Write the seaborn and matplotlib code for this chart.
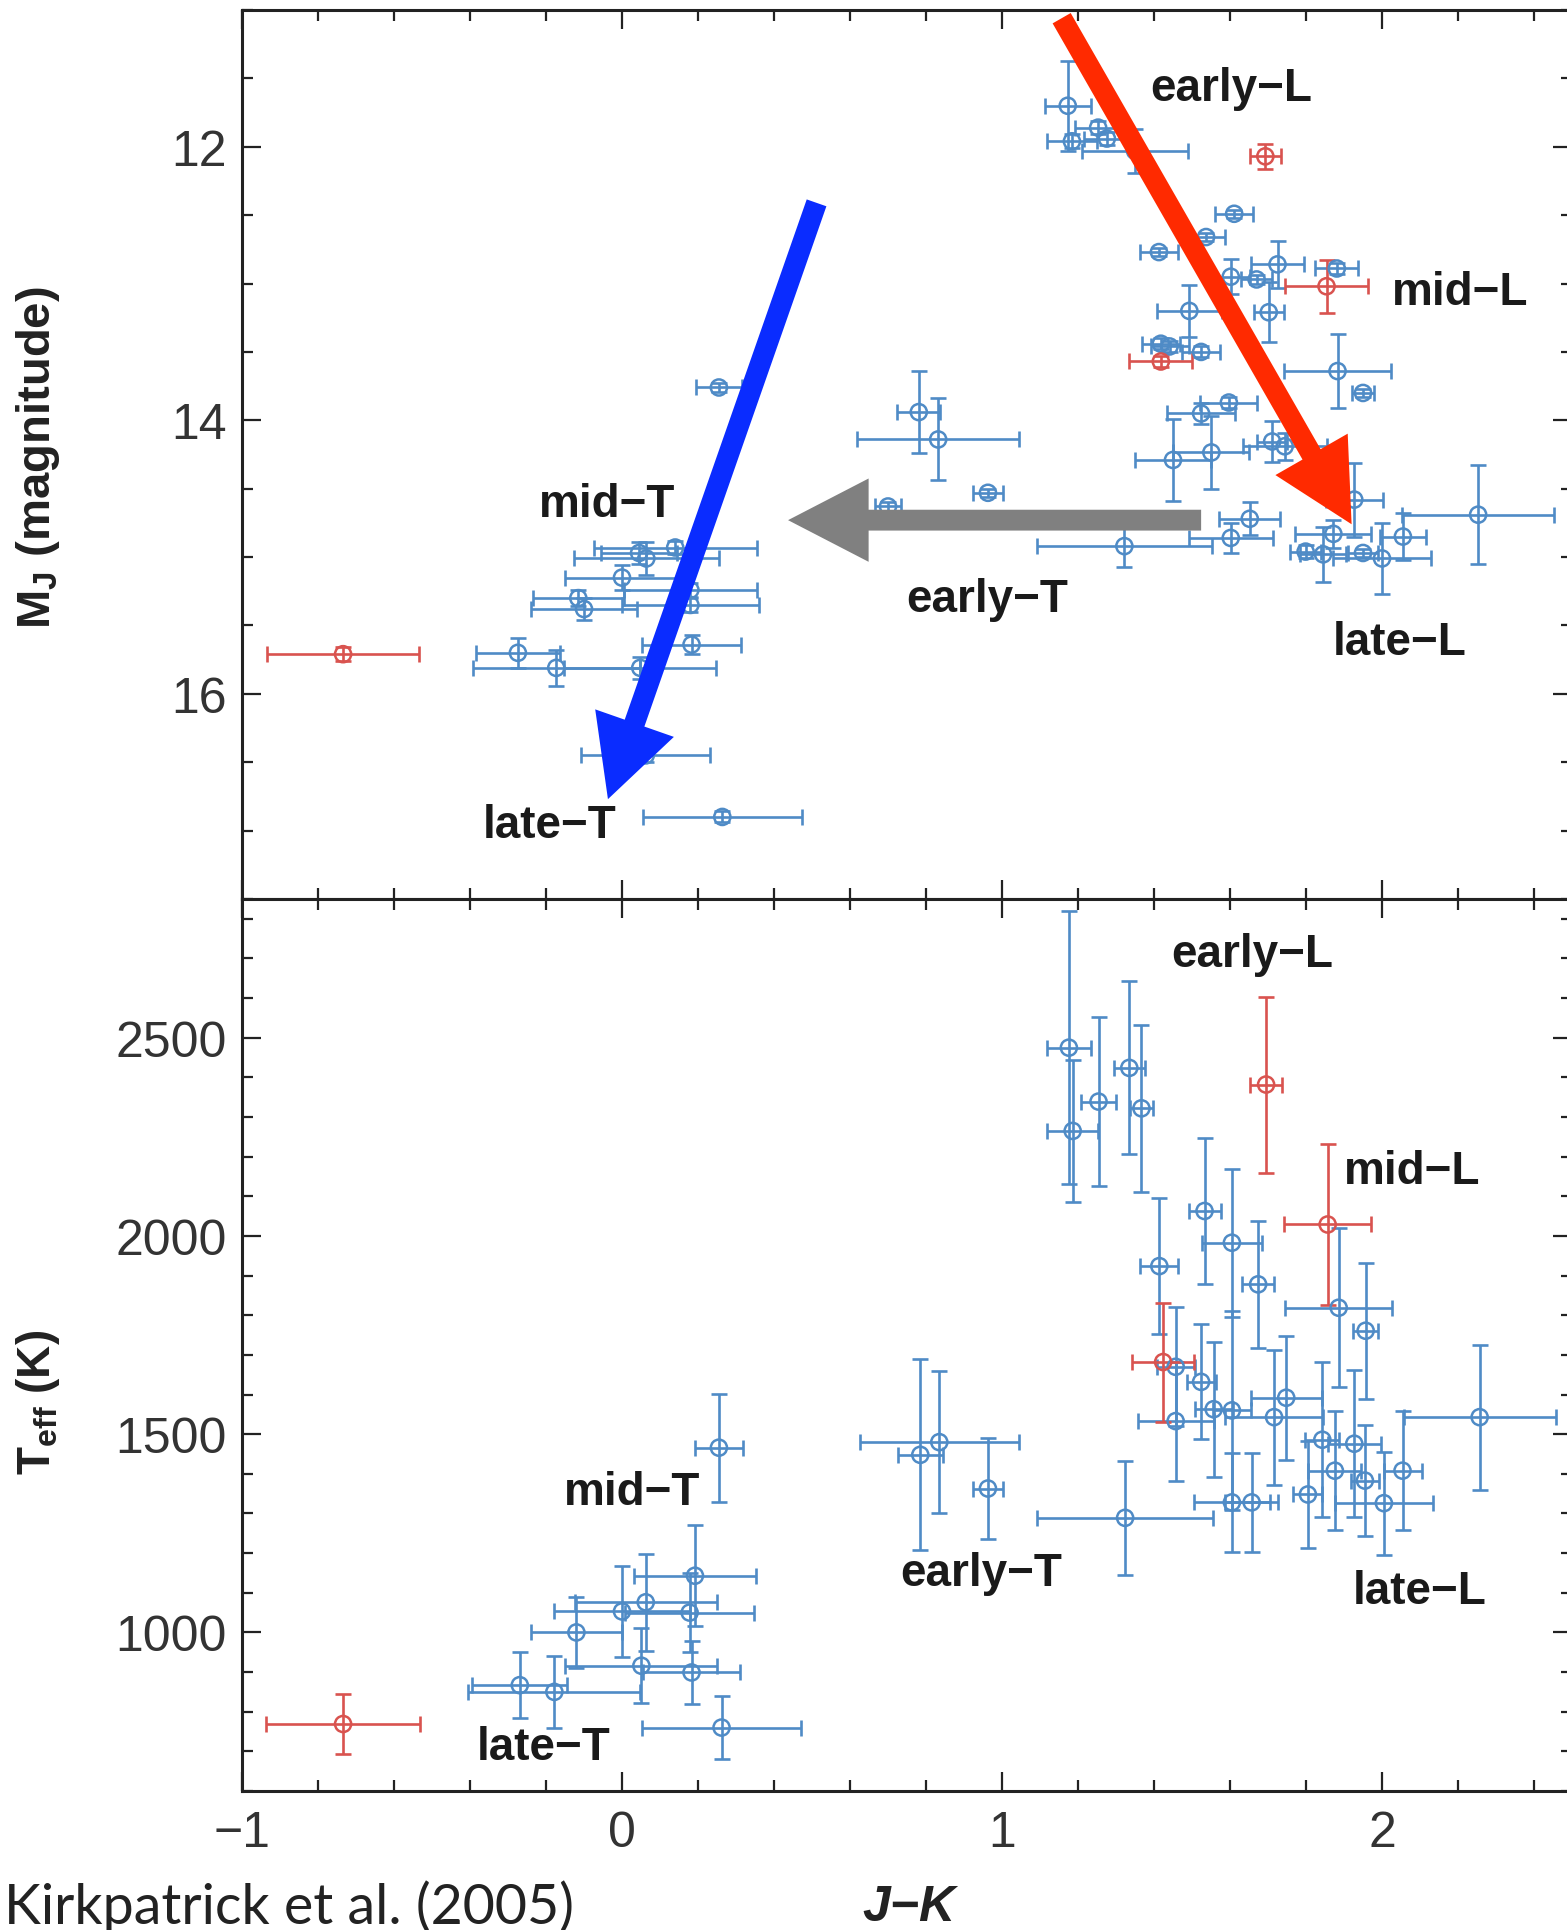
import numpy as np
import pandas as pd
import matplotlib
matplotlib.use("Agg")
import matplotlib.pyplot as plt
import seaborn as sns
from matplotlib.ticker import MultipleLocator

# ---------------- data ----------------
# Top panel: M_J vs J-K, blue objects
top_blue_jk = [0.255, 0.14, 0.045, 0.064, 0.0, -0.115, -0.10, 0.18, 0.18, -0.274,
               -0.173, 0.048, 0.183, 0.0625, 0.264,
               0.781, 0.832, 0.963, 0.70,
               1.173, 1.184, 1.253, 1.276, 1.35, 1.611, 1.537, 1.413, 1.725, 1.602,
               1.67, 1.881, 1.493, 1.702, 1.418, 1.441, 1.524, 1.883,
               1.950, 1.524, 1.597, 1.711, 1.744, 1.450, 1.551, 1.927, 2.253, 1.652,
               1.602, 1.872, 2.055, 1.322, 1.799, 1.845, 1.950, 2.0]
top_blue_mj = [13.76, 14.93, 14.97, 15.01, 15.15, 15.30, 15.38, 15.24, 15.35, 15.70,
               15.81, 15.81, 15.64, 16.45, 16.90,
               13.94, 14.14, 14.53, 14.63,
               11.70, 11.96, 11.86, 11.94, 12.03, 12.49, 12.66, 12.77, 12.86, 12.95,
               12.97, 12.89, 13.20, 13.21, 13.44, 13.46, 13.50, 13.64,
               13.80, 13.95, 13.87, 14.155, 14.19, 14.29, 14.235, 14.58, 14.69, 14.72,
               14.86, 14.83, 14.85, 14.92, 14.96, 14.98, 14.97, 15.01]
top_blue_jk_err = [0.06, 0.215, 0.10, 0.19, 0.15, 0.12, 0.14, 0.175, 0.18, 0.11,
                   0.22, 0.20, 0.13, 0.17, 0.21,
                   0.057, 0.213, 0.04, 0.035,
                   0.061, 0.065, 0.06, 0.06, 0.14, 0.05, 0.05, 0.05, 0.07, 0.05,
                   0.04, 0.057, 0.085, 0.04, 0.05, 0.05, 0.05, 0.14,
                   0.03, 0.09, 0.075, 0.04, 0.11, 0.10, 0.10, 0.075, 0.20, 0.08,
                   0.11, 0.10, 0.06, 0.23, 0.04, 0.06, 0.04, 0.13]
top_blue_mj_err = [0.03, 0.05, 0.08, 0.12, 0.09, 0.06, 0.08, 0.05, 0.05, 0.11,
                   0.13, 0.08, 0.07, 0.05, 0.04,
                   0.30, 0.30, 0.03, 0.03,
                   0.33, 0.05, 0.05, 0.05, 0.16, 0.03, 0.03, 0.03, 0.17, 0.13,
                   0.03, 0.04, 0.19, 0.22, 0.04, 0.04, 0.04, 0.27,
                   0.03, 0.08, 0.04, 0.15, 0.10, 0.30, 0.27, 0.27, 0.36, 0.12,
                   0.11, 0.10, 0.17, 0.15, 0.05, 0.20, 0.03, 0.26]

# Top panel: red objects
top_red_jk = [-0.734, 1.693, 1.854, 1.418]
top_red_mj = [15.71, 12.07, 13.02, 13.57]
top_red_jk_err = [0.20, 0.04, 0.11, 0.083]
top_red_mj_err = [0.05, 0.09, 0.195, 0.04]

# Bottom panel: Teff vs J-K, blue objects
bot_blue_jk = [0.255, 0.192, 0.0625, 0.0, 0.178, -0.12, 0.051, 0.183, -0.269, -0.178, 0.262,
               0.785, 0.835, 0.963,
               1.176, 1.186, 1.254, 1.335, 1.367, 1.533, 1.605, 1.414, 1.674, 1.886,
               1.957, 1.457, 1.457, 1.524, 1.557, 1.605, 1.748, 1.716, 2.257, 1.843,
               1.927, 1.876, 1.955, 2.054, 1.805, 2.005, 1.605, 1.657, 1.324]
bot_blue_teff = [1466, 1143, 1076, 1053, 1050, 1000, 916, 899, 867, 850, 760,
                 1448, 1480, 1363,
                 2475, 2265, 2339, 2424, 2322, 2063, 1983, 1924, 1878, 1819,
                 1761, 1670, 1533, 1632, 1563, 1560, 1592, 1543, 1543, 1486,
                 1476, 1408, 1383, 1408, 1348, 1326, 1328, 1328, 1289]
bot_blue_jk_err = [0.063, 0.161, 0.1875, 0.18, 0.17, 0.12, 0.20, 0.127, 0.125, 0.226, 0.21,
                   0.06, 0.21, 0.04,
                   0.057, 0.067, 0.045, 0.04, 0.03, 0.042, 0.079, 0.05, 0.043, 0.14,
                   0.033, 0.05, 0.10, 0.038, 0.05, 0.05, 0.093, 0.13, 0.20, 0.045,
                   0.07, 0.07, 0.036, 0.05, 0.038, 0.13, 0.10, 0.07, 0.231]
bot_blue_teff_err = [136, 128, 122, 115, 100, 90, 95, 80, 83, 90, 79,
                     241, 180, 127,
                     345, 180, 214, 218, 210, 185, 187, 172, 160, 200,
                     172, 150, 150, 145, 170, 250, 156, 170, 183, 195,
                     185, 150, 140, 150, 135, 130, 125, 125, 143]

# Bottom panel: red objects
bot_red_jk = [-0.734, 1.695, 1.857, 1.424]
bot_red_teff = [769, 2382, 2029, 1682]
bot_red_jk_err = [0.202, 0.043, 0.114, 0.081]
bot_red_teff_err = [75, 222, 202, 150]

# Class labels
top_labels = ["early\u2212L", "mid\u2212L", "late\u2212L", "early\u2212T", "mid\u2212T", "late\u2212T"]
bot_labels = ["early\u2212L", "mid\u2212L", "late\u2212L", "early\u2212T", "mid\u2212T", "late\u2212T"]

# ---------------- layout / style ----------------
top_label_pos = [(1.604, 11.57), (2.206, 13.06), (2.047, 15.62), (0.962, 15.31), (-0.039, 14.61), (-0.19, 16.96)]
bot_label_pos = [(1.659, 2712), (2.08, 2163), (2.10, 1104), (0.946, 1150), (0.026, 1355), (-0.207, 712)]
arrows = [  # (tail, tip, color)
    ((1.157, 11.06), (1.920, 14.76), "#ff2a00"),
    ((0.512, 12.41), (-0.037, 16.77), "#0a2cff"),
    ((1.524, 14.73), (0.437, 14.73), "#808080"),
]

BLUE = "#4f8bc6"
RED = "#d9534f"

sns.set_theme(style="ticks")
plt.rcParams["font.family"] = ["Liberation Sans", "DejaVu Sans"]
plt.rcParams["mathtext.fontset"] = "custom"
plt.rcParams["mathtext.rm"] = "Liberation Sans"
plt.rcParams["mathtext.it"] = "Liberation Sans:italic"
plt.rcParams["mathtext.bf"] = "Liberation Sans:bold"

W, H = 1567, 1931
fig = plt.figure(figsize=(W / 100, H / 100), dpi=100)
left = 242 / W
width = 1330 / W
ax1 = fig.add_axes([left, 1 - 900 / H, width, (900 - 11) / H])
ax2 = fig.add_axes([left, 1 - 1792 / H, width, 892 / H])


def draw(ax, x, y, xe, ye, color):
    ax.errorbar(x, y, xerr=xe, yerr=ye, fmt="none", ecolor=color, elinewidth=1.9,
                capsize=5.5, capthick=1.9, zorder=2)
    df = pd.DataFrame({"x": x, "y": y})
    sns.scatterplot(data=df, x="x", y="y", ax=ax, marker="o", s=135,
                    facecolor="none", edgecolor=color, linewidth=1.8, zorder=3,
                    legend=False)


draw(ax1, top_blue_jk, top_blue_mj, top_blue_jk_err, top_blue_mj_err, BLUE)
draw(ax1, top_red_jk, top_red_mj, top_red_jk_err, top_red_mj_err, RED)
draw(ax2, bot_blue_jk, bot_blue_teff, bot_blue_jk_err, bot_blue_teff_err, BLUE)
draw(ax2, bot_red_jk, bot_red_teff, bot_red_jk_err, bot_red_teff_err, RED)

ax1.set_xlim(-1, 2.5)
ax1.set_ylim(17.5, 11)
ax2.set_xlim(-1, 2.5)
ax2.set_ylim(600, 2850)

for ax in (ax1, ax2):
    ax.xaxis.set_major_locator(MultipleLocator(1))
    ax.xaxis.set_minor_locator(MultipleLocator(0.2))
    ax.tick_params(which="both", direction="in", top=True, right=True,
                   bottom=True, left=True, color="#222222")
    ax.tick_params(which="major", length=14, width=1.6, labelsize=36,
                   labelcolor="#333333", pad=11)
    ax.tick_params(which="minor", length=8, width=1.6)
    for s in ax.spines.values():
        s.set_linewidth(2.2)
        s.set_color("#222222")

ax1.yaxis.set_major_locator(MultipleLocator(2))
ax1.yaxis.set_minor_locator(MultipleLocator(0.5))
ax2.yaxis.set_major_locator(MultipleLocator(500))
ax2.yaxis.set_minor_locator(MultipleLocator(100))
ax1.tick_params(axis="x", labelbottom=False)
ax2.tick_params(axis="x", pad=14)

ax1.set_xlabel("")
ax1.set_ylabel(r"$\mathbf{M_J}$ (magnitude)", fontsize=34, fontweight="bold", color="#222222")
ax2.set_ylabel(r"$\mathbf{T_{eff}}$ (K)", fontsize=33, fontweight="bold", color="#222222")
ax2.set_xlabel("J\u2212K", fontsize=36, fontweight="bold", style="italic", color="#222222")
ax1.yaxis.set_label_coords(-0.135, 0.497)
ax2.yaxis.set_label_coords(-0.135, 0.437)
ax2.xaxis.set_label_coords(0.5015, -0.104)

for txt, (x, y) in zip(top_labels, top_label_pos):
    ax1.text(x, y, txt, fontsize=33, fontweight="bold", color="#1a1a1a",
             ha="center", va="center", zorder=6)
for txt, (x, y) in zip(bot_labels, bot_label_pos):
    ax2.text(x, y, txt, fontsize=33, fontweight="bold", color="#1a1a1a",
             ha="center", va="center", zorder=6)

for tail, tip, col in arrows:
    ax1.annotate("", xy=tip, xytext=tail, annotation_clip=False,
                 arrowprops=dict(arrowstyle="simple,head_length=58,head_width=60,tail_width=15",
                                 mutation_scale=1, color=col, lw=0,
                                 shrinkA=0, shrinkB=0), zorder=7)

fig.text(4 / W, 1 - 1924 / H, "Kirkpatrick et al. (2005)", fontsize=40,
         family=["Lato", "DejaVu Sans"], color="#222222", ha="left", va="baseline")

fig.savefig("out.png", dpi=100)
